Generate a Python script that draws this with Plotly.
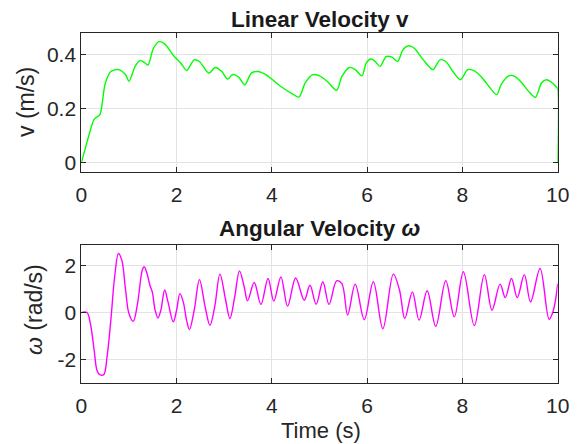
import plotly.graph_objects as go

# ---- data ----
t_v = [0, 0.08, 0.155, 0.27, 0.39, 0.44, 0.5, 0.62, 0.78, 0.93, 1.0, 1.13, 1.23, 1.32, 1.4,
       1.51, 1.63, 1.75, 1.94, 2.1, 2.21, 2.37, 2.48, 2.68, 2.81, 2.95, 3.07, 3.18, 3.3, 3.43,
       3.57, 3.7, 3.88, 4.04, 4.19, 4.43, 4.57, 4.7, 4.85, 5.0, 5.16, 5.36, 5.47, 5.63, 5.75,
       5.89, 5.98, 6.08, 6.17, 6.27, 6.4, 6.52, 6.64, 6.75, 6.87, 6.99, 7.18, 7.38, 7.53, 7.65,
       7.8, 7.96, 8.11, 8.23, 8.39, 8.5, 8.72, 8.81, 8.97, 9.08, 9.24, 9.39, 9.53, 9.66, 9.76,
       9.89, 9.97, 9.995, 10.0]
v_vals = [0, 0.05, 0.098, 0.16, 0.177, 0.22, 0.29, 0.336, 0.343, 0.324, 0.30, 0.355, 0.376, 0.37, 0.36,
          0.42, 0.446, 0.438, 0.394, 0.365, 0.34, 0.379, 0.373, 0.33, 0.351, 0.336, 0.308, 0.325, 0.316, 0.287,
          0.33, 0.336, 0.324, 0.302, 0.281, 0.254, 0.242, 0.294, 0.324, 0.32, 0.30, 0.267, 0.318, 0.351, 0.343,
          0.32, 0.367, 0.382, 0.373, 0.355, 0.391, 0.389, 0.373, 0.416, 0.431, 0.422, 0.379, 0.343, 0.379, 0.373,
          0.336, 0.306, 0.343, 0.34, 0.318, 0.294, 0.251, 0.287, 0.32, 0.32, 0.296, 0.263, 0.241, 0.294, 0.306,
          0.294, 0.279, 0.275, 0.0]

t_w = [0, 0.12, 0.19, 0.27, 0.33, 0.39, 0.47, 0.54, 0.62, 0.7, 0.78, 0.85, 0.93, 1.0, 1.09, 1.18, 1.28,
       1.32, 1.38, 1.44, 1.49, 1.55, 1.61, 1.67, 1.75, 1.82, 1.93, 2.0, 2.07, 2.14, 2.21, 2.27, 2.37,
       2.48, 2.6, 2.7, 2.8, 2.91, 3.03, 3.12, 3.22, 3.32, 3.42, 3.49, 3.63, 3.77, 3.92, 4.04, 4.19,
       4.33, 4.5, 4.68, 4.8, 4.93, 5.07, 5.2, 5.36, 5.47, 5.59, 5.75, 5.94, 6.13, 6.33, 6.55, 6.68,
       6.79, 6.95, 7.09, 7.26, 7.44, 7.65, 7.83, 8.02, 8.25, 8.46, 8.62, 8.79, 8.9, 9.03, 9.15, 9.3,
       9.43, 9.63, 9.82, 9.91, 10.0]
w_vals = [0, 0, -0.46, -1.59, -2.44, -2.62, -2.62, -1.87, -0.32, 1.5, 2.49, 2.21, 0.94, -0.04, -0.37,
          0.38, 1.79, 1.93, 1.65, 1.15, 0.87, 0.1, -0.23, 0.1, 0.95, 0.45, -0.39, 0.1, 0.8, 0.45, -0.32,
          -0.72, 0.1, 1.39, 0.24, -0.54, 0.24, 1.62, 0.52, -0.25, 0.66, 1.76, 1.08, 0.5, 1.27, 0.34, 1.44,
          0.49, 1.5, 0.27, 1.46, 0.52, 1.15, 0.35, 1.3, 0.34, 1.34, 1.22, -0.1, 1.2, -0.3, 1.3, -0.68,
          1.62, 0.94, -0.25, 0.87, -0.32, 0.92, -0.58, 1.34, -0.18, 1.72, -0.55, 1.6, 0.1, 1.2, 0.63,
          1.44, 0.63, 1.6, 0.45, 1.86, -0.28, 0.1, 1.22]

x_ticks = [0, 2, 4, 6, 8, 10]
v_ticks = [0, 0.2, 0.4]
v_tick_labels = ["0", "0.2", "0.4"]
w_ticks = [-2, 0, 2]
w_tick_labels = ["-2", "0", "2"]

FONT = "Liberation Sans, Arial, sans-serif"
AX_COL = "#262626"
GRID_COL = "#e3e3e3"

# page has an 8px body margin, so the figure is offset by 8px
OFF = 8
W, H = 580 - OFF, 444 - OFF


def px(x):
    return (x - OFF) / W


def py(y):
    return 1 - (y - OFF) / H


fig = go.Figure()
fig.add_trace(go.Scatter(x=t_v, y=v_vals, mode="lines", xaxis="x", yaxis="y",
                         line=dict(color="#00ff00", width=1.4, shape="spline", smoothing=0.8),
                         showlegend=False))
fig.add_trace(go.Scatter(x=t_w, y=w_vals, mode="lines", xaxis="x2", yaxis="y2",
                         line=dict(color="#ff00ff", width=1.4, shape="spline", smoothing=1.0),
                         showlegend=False))

XDOM = [px(81.3), px(557.7)]


def xax(anchor):
    return dict(domain=XDOM, range=[0, 10], tickvals=x_ticks,
                showgrid=True, gridcolor=GRID_COL, gridwidth=1, zeroline=False,
                showline=True, linecolor=AX_COL, linewidth=1, mirror="ticks",
                ticks="inside", ticklen=5, tickcolor=AX_COL, automargin=False,
                ticklabelstandoff=4,
                tickfont=dict(family=FONT, size=21, color=AX_COL),
                anchor=anchor, fixedrange=True)


def yax(domain, rng, tv, tt, anchor):
    return dict(domain=domain, range=rng, tickvals=tv, ticktext=tt,
                showgrid=True, gridcolor=GRID_COL, gridwidth=1, zeroline=False,
                showline=True, linecolor=AX_COL, linewidth=1, mirror="ticks",
                ticks="inside", ticklen=5, tickcolor=AX_COL, automargin=False,
                tickfont=dict(family=FONT, size=21, color=AX_COL),
                anchor=anchor, fixedrange=True)


fig.update_layout(
    width=W, height=H,
    margin=dict(l=0, r=0, t=0, b=0),
    paper_bgcolor="white", plot_bgcolor="white",
    xaxis=xax("y"),
    yaxis=yax([py(171.7), py(33.0)], [-0.033, 0.478], v_ticks, v_tick_labels, "x"),
    xaxis2=xax("y2"),
    yaxis2=yax([py(382.5), py(245.0)], [-2.95, 2.85], w_ticks, w_tick_labels, "x2"),
    annotations=[
        dict(text="<b>Linear Velocity v</b>", x=px(320), y=py(19.5), xref="paper", yref="paper",
             showarrow=False, xanchor="center", yanchor="middle",
             font=dict(family=FONT, size=22.5, color="#1a1a1a")),
        dict(text="<b>Angular Velocity <i>ω</i></b>", x=px(320), y=py(228), xref="paper", yref="paper",
             showarrow=False, xanchor="center", yanchor="middle",
             font=dict(family=FONT, size=22.5, color="#1a1a1a")),
        dict(text="v (m/s)", x=px(26), y=py(102), xref="paper", yref="paper",
             showarrow=False, xanchor="center", yanchor="middle", textangle=-90,
             font=dict(family=FONT, size=23, color=AX_COL)),
        dict(text="<i>ω</i> (rad/s)", x=px(34), y=py(310), xref="paper", yref="paper",
             showarrow=False, xanchor="center", yanchor="middle", textangle=-90,
             font=dict(family=FONT, size=23, color=AX_COL)),
        dict(text="Time (s)", x=px(321), y=py(430), xref="paper", yref="paper",
             showarrow=False, xanchor="center", yanchor="middle",
             font=dict(family=FONT, size=22, color=AX_COL)),
    ],
)

fig.write_html("out.html")
